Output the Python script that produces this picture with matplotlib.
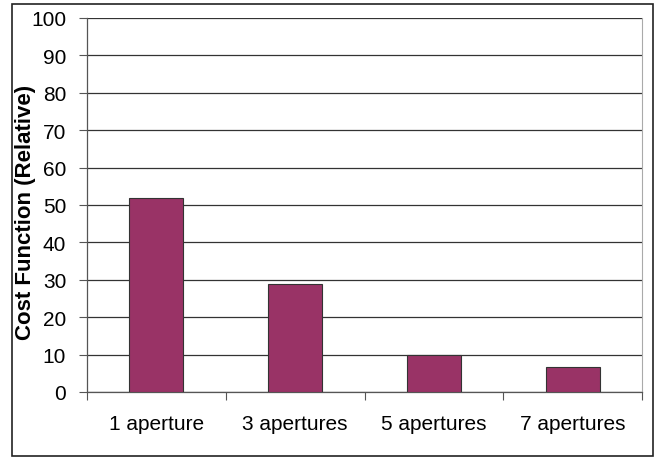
import numpy as np
import matplotlib.pyplot as plt
from matplotlib.patches import Rectangle

categories = ["1 aperture", "3 apertures", "5 apertures", "7 apertures"]
cost = [52, 29, 10, 6.6]

plt.rcParams['font.family'] = ['Liberation Sans', 'DejaVu Sans']

W, H = 661, 460
fig = plt.figure(figsize=(W/100, H/100), dpi=100)
ax = fig.add_axes([87/W, 1-393/H, (642-87)/W, (393-19)/H])

x = np.arange(len(categories))
ax.bar(x, cost, width=0.39, color='#993366', edgecolor='#333333', linewidth=0.8, zorder=3)

ax.set_xlim(-0.5, len(categories)-0.5)
ax.set_ylim(0, 100)
ax.set_yticks(np.arange(0, 101, 10))
ax.yaxis.grid(True, color='#333333', linewidth=0.9, zorder=0)
ax.tick_params(axis='y', length=6, width=0.8, color='#555555', labelsize=15, pad=9)

ax.set_xticks(x)
ax.set_xticklabels(categories, fontsize=15)
ax.tick_params(axis='x', length=0, pad=16)
ax.set_xticks(np.arange(-0.5, len(categories)), minor=True)
ax.tick_params(axis='x', which='minor', length=6, width=0.8, color='#555555')

for side in ['left', 'bottom']:
    ax.spines[side].set_color('#555555')
    ax.spines[side].set_linewidth(0.9)
ax.spines['right'].set_color('#aaaaaa')
ax.spines['top'].set_visible(False)

fig.text(26/W, 1-212/H, "Cost Function (Relative)", rotation=90, ha='center', va='center',
         fontsize=16, fontweight='bold')

fig.patches.append(Rectangle((12/W, 1-457/H), (653-12)/W, (457-5)/H, transform=fig.transFigure,
                             fill=False, edgecolor='#222222', linewidth=1.2))

fig.savefig("out.png", dpi=100)
